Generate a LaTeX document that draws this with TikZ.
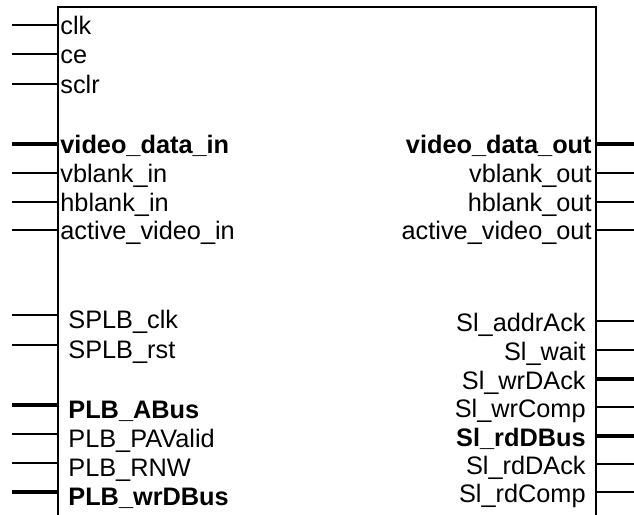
\documentclass[tikz,border=0pt]{standalone}
\usepackage{fontspec}
\setmainfont{Liberation Sans}

\begin{document}
\begin{tikzpicture}[x=0.5bp,y=-0.5bp,
    block/.style={draw,line width=1bp,inner sep=0,outer sep=0,
      minimum width=269bp,minimum height=300bp},
    sig/.style={inner sep=0,text height=9.1bp,text depth=0pt,
      font=\fontsize{12.7}{15}\selectfont},
    bus/.style={sig,font=\fontsize{12.7}{15}\selectfont\bfseries},
    pin/.style={line width=0.85bp},
    buspin/.style={line width=1.7bp}]

  \useasboundingbox (0,0) rectangle (634,515);
  \clip (0,0) rectangle (634,515);

  \node[block,anchor=north west] (ip) at (58,7) {};

  % left side, video
  \node[sig,anchor=west] (clk) at (60,25) {clk};
  \node[sig,anchor=west] (ce) at (60,54) {ce};
  \node[sig,anchor=west] (sclr) at (60,84) {sclr};
  \node[bus,anchor=west] (vdin) at (60,144) {video\_data\_in};
  \node[sig,anchor=west] (vbin) at (60,173) {vblank\_in};
  \node[sig,anchor=west] (hbin) at (60,202) {hblank\_in};
  \node[sig,anchor=west] (avin) at (60,230) {active\_video\_in};

  % left side, plb
  \node[sig,anchor=west] (splbclk) at (68,319) {SPLB\_clk};
  \node[sig,anchor=west] (splbrst) at (68,349) {SPLB\_rst};
  \node[bus,anchor=west] (abus) at (68,409) {PLB\_ABus};
  \node[sig,anchor=west] (pavalid) at (68,438) {PLB\_PAValid};
  \node[sig,anchor=west] (rnw) at (68,467) {PLB\_RNW};
  \node[bus,anchor=west] (wrdbus) at (68,496) {PLB\_wrDBus};

  % right side, video
  \node[bus,anchor=east] (vdout) at (592,144) {video\_data\_out};
  \node[sig,anchor=east] (vbout) at (592,173) {vblank\_out};
  \node[sig,anchor=east] (hbout) at (592,202) {hblank\_out};
  \node[sig,anchor=east] (avout) at (592,230) {active\_video\_out};

  % right side, slave
  \node[sig,anchor=east] (addrack) at (586,322) {Sl\_addrAck};
  \node[sig,anchor=east] (wait) at (586,351) {Sl\_wait};
  \node[sig,anchor=east] (wrdack) at (586,380) {Sl\_wrDAck};
  \node[sig,anchor=east] (wrcomp) at (586,408) {Sl\_wrComp};
  \node[bus,anchor=east] (rddbus) at (586,437) {Sl\_rdDBus};
  \node[sig,anchor=east] (rddack) at (586,465) {Sl\_rdDAck};
  \node[sig,anchor=east] (rdcomp) at (586,493) {Sl\_rdComp};

  % pin ends
  \coordinate (clk-p) at (12,25);
  \coordinate (ce-p) at (12,54);
  \coordinate (sclr-p) at (12,84);
  \coordinate (vdin-p) at (12,144);
  \coordinate (vbin-p) at (12,173);
  \coordinate (hbin-p) at (12,202);
  \coordinate (avin-p) at (12,230);
  \coordinate (splbclk-p) at (12,315);
  \coordinate (splbrst-p) at (12,345);
  \coordinate (abus-p) at (12,405);
  \coordinate (pavalid-p) at (12,434);
  \coordinate (rnw-p) at (12,463);
  \coordinate (wrdbus-p) at (12,492);
  \coordinate (vdout-p) at (640,144);
  \coordinate (vbout-p) at (640,173);
  \coordinate (hbout-p) at (640,202);
  \coordinate (avout-p) at (640,230);
  \coordinate (addrack-p) at (640,321);
  \coordinate (wait-p) at (640,350);
  \coordinate (wrdack-p) at (640,379);
  \coordinate (wrcomp-p) at (640,407);
  \coordinate (rddbus-p) at (640,436);
  \coordinate (rddack-p) at (640,464);
  \coordinate (rdcomp-p) at (640,492);

  \path[pin]
    (clk-p) edge (clk-p -| ip.west)
    (ce-p) edge (ce-p -| ip.west)
    (sclr-p) edge (sclr-p -| ip.west)
    (vbin-p) edge (vbin-p -| ip.west)
    (hbin-p) edge (hbin-p -| ip.west)
    (avin-p) edge (avin-p -| ip.west)
    (splbclk-p) edge (splbclk-p -| ip.west)
    (splbrst-p) edge (splbrst-p -| ip.west)
    (pavalid-p) edge (pavalid-p -| ip.west)
    (rnw-p) edge (rnw-p -| ip.west)
    (vbout-p) edge (vbout-p -| ip.east)
    (hbout-p) edge (hbout-p -| ip.east)
    (avout-p) edge (avout-p -| ip.east)
    (addrack-p) edge (addrack-p -| ip.east)
    (wait-p) edge (wait-p -| ip.east)
    (wrcomp-p) edge (wrcomp-p -| ip.east)
    (rddack-p) edge (rddack-p -| ip.east)
    (rdcomp-p) edge (rdcomp-p -| ip.east);
  \path[buspin]
    (vdin-p) edge (vdin-p -| ip.west)
    (abus-p) edge (abus-p -| ip.west)
    (wrdbus-p) edge (wrdbus-p -| ip.west)
    (vdout-p) edge (vdout-p -| ip.east)
    (wrdack-p) edge (wrdack-p -| ip.east)
    (rddbus-p) edge (rddbus-p -| ip.east);
\end{tikzpicture}
\end{document}
